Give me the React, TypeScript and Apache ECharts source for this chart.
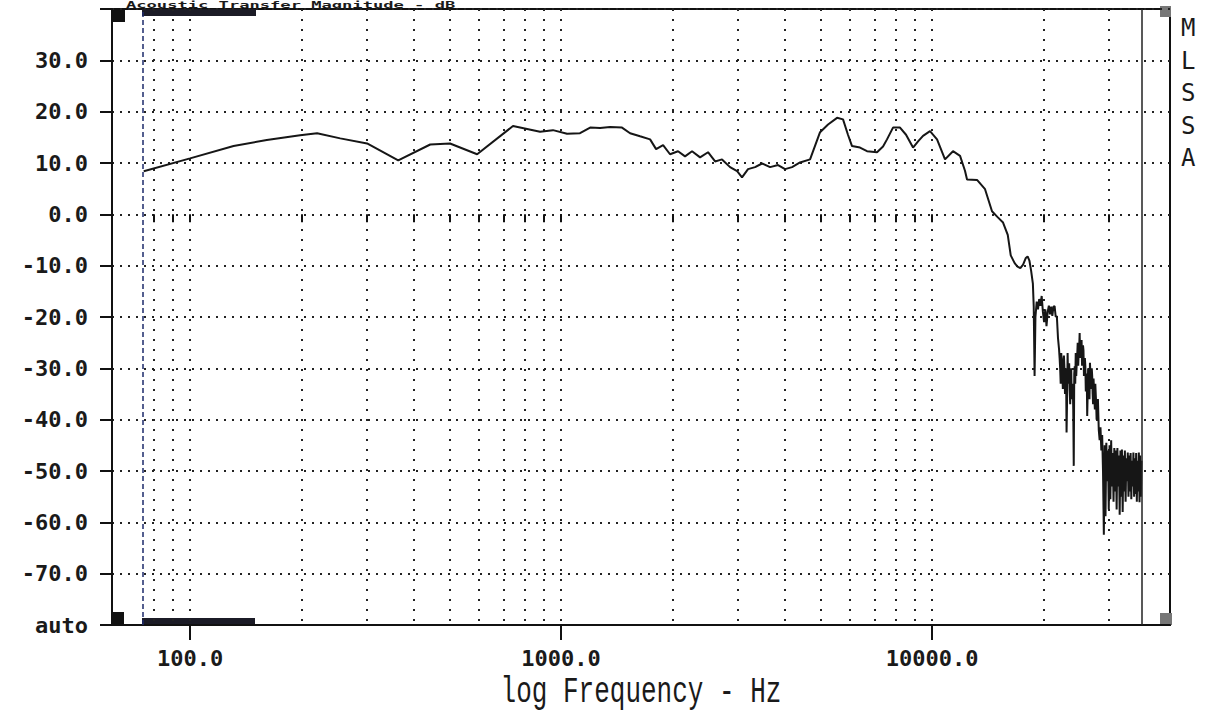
import React, { useEffect, useRef } from "react";
import * as echarts from "echarts";

// Frequency (Hz) of each measured point
const freqHz: number[] = [
  75, 100, 131, 161, 198, 220, 254, 300, 364, 444, 502, 594, 742, 878, 951,
  1038, 1125, 1198, 1274, 1356, 1460, 1535, 1633, 1738, 1804, 1884, 1967, 2067,
  2159, 2255, 2370, 2490, 2602, 2716, 2855, 2983, 3075, 3192, 3334, 3482, 3660,
  3846, 4016, 4195, 4408, 4691, 4991, 5245, 5546, 5756, 5935, 6086, 6396, 6679,
  7108, 7378, 7562, 7849, 8198, 8511, 8888, 9170, 9457, 9876, 10316, 10840,
  11390, 11900, 12270, 12427, 13222, 13897, 14510, 15000, 15540, 16000, 16300,
  16700, 17000, 17300, 17600, 17900, 18100, 18300, 18500, 18700,
  18800, 18900, 19000, 19150, 19300, 19450, 19600, 19750, 19900, 20050, 20200,
  20350, 20500, 20650, 20800, 20950, 21100, 21250, 21400, 21550, 21700, 21850,
  22000,
  22075, 22150, 22225, 22300, 22375, 22450, 22525, 22600, 22675, 22750, 22825,
  22900, 22975, 23050, 23125, 23200, 23275, 23350, 23425, 23500, 23575, 23650,
  23725, 23800, 23875, 23950, 24025, 24100, 24175, 24250, 24325, 24400, 24475,
  24550, 24625, 24700, 24775, 24850, 24925, 25000, 25075, 25150, 25225, 25300,
  25375, 25450, 25525, 25600, 25675, 25750, 25825, 25900, 25975, 26050, 26125,
  26200, 26275, 26350, 26425, 26500, 26575, 26650, 26725, 26800, 26875, 26950,
  27025, 27100, 27175, 27250, 27325, 27400, 27475, 27550, 27625, 27700, 27775,
  27850, 27925, 28000,
  28150, 28300, 28450, 28600, 28750, 28900, 29050, 29200, 29350, 29500, 29650,
  29800, 29950, 30100, 30250, 30400, 30550, 30700, 30850, 31000, 31150, 31300,
  31450, 31600, 31750, 31900, 32050, 32200, 32350, 32500, 32650, 32800, 32950,
  33100, 33250, 33400, 33550, 33700, 33850, 34000, 34150, 34300, 34450, 34600,
  34750, 34900, 35050, 35200, 35350, 35500, 35650, 35800, 35950, 36100, 36250,
  36400, 36550, 36700,
];

// Acoustic transfer magnitude (dB) at each frequency
const magDb: number[] = [
  8.4, 10.9, 13.3, 14.5, 15.4, 15.8, 14.8, 13.8, 10.5, 13.6, 13.8, 11.7, 17.2,
  16.1, 16.4, 15.7, 15.8, 16.9, 16.8, 17.0, 16.9, 15.8, 15.2, 14.6, 12.7, 13.5,
  11.7, 12.3, 11.3, 12.3, 11.1, 12.1, 10.3, 10.7, 9.2, 8.4, 7.2, 8.8, 9.2, 9.9,
  9.2, 9.6, 8.8, 9.2, 10.1, 10.7, 16.0, 17.5, 18.8, 18.5, 15.5, 13.3, 13.0,
  12.3, 12.1, 13.2, 14.6, 16.9, 16.9, 15.5, 13.0, 14.2, 15.3, 16.2, 14.6, 10.7,
  12.3, 11.4, 8.5, 6.8, 6.7, 4.9, 0.6, -0.5, -1.6, -4, -8, -9.5, -10.2, -10.5,
  -9.8, -8.5, -8.2, -9, -11, -13.5,
  -18, -31.5, -20, -17, -18.5, -16.5, -17.8, -15.9, -19, -21, -18.5, -21.8,
  -19, -17.8, -19.5, -18, -19.8, -18, -17.9, -20, -19.8, -24, -26.3,
  -28, -30, -33, -27, -29, -31, -34, -28.5, -27.5, -30.2,
  -35, -33, -30, -42.5, -36, -27, -33, -30, -29, -34,
  -37, -31, -30, -36, -34, -33, -38, -49, -31, -29.6,
  -33, -27, -31.5, -29, -27.5, -25, -29.5, -27, -26, -23.1,
  -28, -26, -25, -24.5, -29.5, -28, -25.5, -26.5, -31.5, -30,
  -28, -29.6, -34.5, -33, -31, -39.3, -35, -30, -31, -34,
  -36, -28.9, -31, -32, -34, -30, -31.5, -35, -37, -32,
  -34, -36, -38, -33, -35, -37, -40, -39.3, -38, -36,
  -42, -44, -41.5, -46, -43, -50, -62.4, -45, -58.8, -44.5, -52, -46, -57.5,
  -45, -55.5, -44, -53, -46.5, -56, -45.5, -54, -46, -57.5, -45.5, -53, -47,
  -58.5, -46, -55, -45.8, -58, -47, -54, -46, -56, -47.5, -52, -46.4, -55,
  -47, -54, -46.5, -55.5, -48, -53, -46.4, -55, -47.5, -54.5, -46.5, -56, -48,
  -54, -46.4, -56.1, -47, -55, -48,
];

const decadeTicks: number[] = [100, 1000, 10000];
const gridTicks: number[] = [
  80, 90, 100, 200, 300, 400, 500, 600, 700, 800, 900, 1000, 2000, 3000, 4000,
  5000, 6000, 7000, 8000, 9000, 10000, 20000, 30000,
];
const cursorStartHz = 74.7;
const dataEndHz = 36800;
const freqMin = 61.6;
const freqMax = 43800;
const dbMin = -80;
const dbMax = 40;
const dbStep = 10;

const titleText = "Acoustic Transfer Magnitude - dB";
const axisTitle = "log Frequency - Hz";
const sideLabel = "M\nL\nS\nS\nA";

export default function App() {
  const ref = useRef<HTMLDivElement>(null);

  useEffect(() => {
    if (!ref.current) return;
    const chart = echarts.init(ref.current, null, { renderer: "svg" });
    const labelFont = {
      fontFamily: "DejaVu Sans Mono",
      fontWeight: "bold" as const,
      fontSize: 22,
      color: "#1a1a1a",
    };
    const points = freqHz.map((f, i) => [f, magDb[i]]);

    chart.setOption({
      animation: false,
      backgroundColor: "#ffffff",
      grid: {
        left: 112,
        right: 35,
        top: 9,
        bottom: 89,
        show: true,
        borderColor: "#111",
        borderWidth: 2,
        backgroundColor: "transparent",
      },
      xAxis: [
        {
          type: "log",
          min: freqMin,
          max: freqMax,
          position: "bottom",
          axisLine: { show: true, onZero: false, lineStyle: { color: "#111", width: 2 } },
          axisTick: {
            show: true,
            inside: false,
            length: 15,
            customValues: decadeTicks,
            lineStyle: { color: "#111", width: 2 },
          },
          axisLabel: {
            ...labelFont,
            margin: 22,
            customValues: decadeTicks,
            formatter: (v: number) => v.toFixed(1),
          },
          splitLine: { show: false },
        },
        {
          type: "log",
          min: freqMin,
          max: freqMax,
          position: "bottom",
          offset: 0,
          axisLine: { show: false },
          axisTick: {
            show: true,
            inside: false,
            length: 8,
            customValues: gridTicks,
            lineStyle: { color: "#111", width: 2 },
          },
          axisLabel: { show: false, customValues: gridTicks },
          splitLine: {
            show: true,
            lineStyle: { color: "#222", width: 2, type: [2, 8] },
          },
        },
      ],
      yAxis: {
        type: "value",
        min: dbMin,
        max: dbMax,
        interval: dbStep,
        axisLine: { show: true, onZero: false, lineStyle: { color: "#111", width: 2 } },
        axisTick: { show: true, inside: false, length: 12, lineStyle: { color: "#111", width: 2 } },
        axisLabel: {
          ...labelFont,
          margin: 24,
          formatter: (v: number) => (v === dbMin ? "auto" : v === dbMax ? "" : v.toFixed(1)),
        },
        splitLine: {
          show: true,
          lineStyle: { color: "#222", width: 2, type: [2, 6] },
        },
      },
      series: [
        {
          type: "line",
          data: points,
          showSymbol: false,
          symbol: "none",
          lineStyle: { color: "#161616", width: 2 },
          clip: true,
          markLine: {
            silent: true,
            symbol: "none",
            label: { show: false },
            data: [
              {
                xAxis: cursorStartHz,
                lineStyle: { color: "#1c2a6b", width: 1.5, type: [5, 3] },
              },
              {
                xAxis: dataEndHz,
                lineStyle: { color: "#222", width: 1.5, type: "solid" },
              },
            ],
          },
        },
      ],
      graphic: [
        { type: "rect", shape: { x: 112, y: 9, width: 13, height: 13 }, style: { fill: "#111" }, silent: true },
        { type: "rect", shape: { x: 112, y: 612, width: 12, height: 13 }, style: { fill: "#111" }, silent: true },
        { type: "rect", shape: { x: 142, y: 9, width: 114, height: 7 }, style: { fill: "#1b1b26" }, silent: true },
        { type: "rect", shape: { x: 142, y: 618, width: 113, height: 7 }, style: { fill: "#1b1b26" }, silent: true },
        { type: "rect", shape: { x: 1160, y: 6, width: 11, height: 11 }, style: { fill: "#777" }, silent: true },
        { type: "rect", shape: { x: 1160, y: 613, width: 12, height: 12 }, style: { fill: "#777" }, silent: true },
        {
          type: "text",
          x: 126,
          y: 0,
          scaleX: 1.9,
          silent: true,
          style: {
            text: titleText,
            font: "bold 9px 'DejaVu Sans Mono'",
            fill: "#1a1a1a",
            textAlign: "left",
            textVerticalAlign: "top",
          },
        },
        {
          type: "text",
          top: 12,
          left: 1181,
          silent: true,
          style: {
            text: sideLabel,
            font: "24px 'DejaVu Sans Mono'",
            lineHeight: 32.5,
            fill: "#1a1a1a",
            textAlign: "center",
            textVerticalAlign: "top",
          },
        },
        {
          type: "text",
          x: 641,
          y: 692,
          scaleY: 1.45,
          silent: true,
          style: {
            text: axisTitle,
            font: "26px 'Liberation Mono'",
            fill: "#1a1a1a",
            textAlign: "center",
            textVerticalAlign: "middle",
          },
        },
      ],
    });

    return () => chart.dispose();
  }, []);

  return (
    <div
      ref={ref}
      style={{ position: "fixed", left: 0, top: 0, width: 1205, height: 714 }}
    />
  );
}
